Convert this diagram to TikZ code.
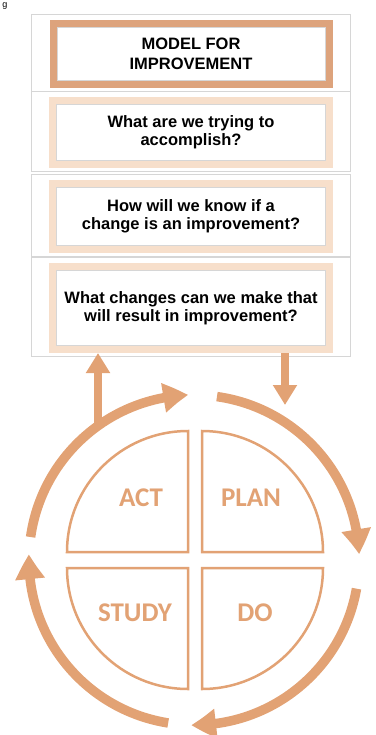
\documentclass[tikz,border=0pt]{standalone}
\usepackage{fontspec}
\setmainfont{Liberation Sans}
\newfontfamily\cyclefont{Carlito}
\usetikzlibrary{arrows.meta,bending,positioning}

\definecolor{frameorange}{HTML}{DDA37C}
\definecolor{paleorange}{HTML}{F7DFCB}
\definecolor{cycleorange}{HTML}{E2A274}
\definecolor{ghostgray}{HTML}{D6D6D6}

\begin{document}
\begin{tikzpicture}[x=1pt,y=-1pt,
    qbox/.style={draw=paleorange,line width=7.5pt,fill=white,minimum width=276pt,
      align=center,inner sep=0pt,font=\bfseries\fontsize{16.5}{18}\selectfont},
    headbox/.style={qbox,draw=frameorange,line width=7pt,
      font=\bfseries\fontsize{16.5}{20}\selectfont},
    feed/.style={cycleorange,line width=8pt,-{Triangle[width=23pt,length=20pt]}},
    turn/.style={cycleorange,line width=9.5pt,-{Triangle[bend,width=28pt,length=25pt]}},
    quarter/.style={draw=cycleorange,line width=2.5pt,fill=white},
    phase/.style={anchor=base,inner sep=0pt,text=cycleorange,
      font=\cyclefont\bfseries\fontsize{27}{27}\selectfont}]

  \useasboundingbox (0,0) rectangle (375,735);

  % letter left over from the caption
  \node[anchor=base,inner sep=0pt,font=\fontsize{9}{9}\selectfont] (g) at (5,7.5) {g};

  % the three questions
  \node[headbox,minimum height=61pt] (model) at (191,54) {MODEL FOR\\IMPROVEMENT};
  \node[qbox,minimum height=63.5pt,below=9pt of model] (aim) {What are we trying to\\accomplish?};
  \node[qbox,minimum height=65.5pt,below=12pt of aim] (measure) {How will we know if a\\change is an improvement?};
  \node[qbox,minimum height=82.5pt,below=10pt of measure] (change) {What changes can we make that\\will result in improvement?};

  \foreach \b in {model,aim,measure,change} {
    \draw[ghostgray,line width=0.6pt] ([shift={(7.4pt,-7.4pt)}]\b.north west) rectangle ([shift={(-7.4pt,7.4pt)}]\b.south east);
    \draw[ghostgray,line width=0.6pt] ([shift={(-18pt,6pt)}]\b.north west) rectangle ([shift={(18pt,-3pt)}]\b.south east);
  }

  % links between the questions and the cycle
  \coordinate (hub) at (194,560);
  \coordinate (actfoot) at (98,427);
  \coordinate (planin) at (285,405);
  \draw[feed] (actfoot) -- (actfoot |- change.south);
  \draw[feed] (planin |- change.south) -- (planin);

  % PDSA ring
  \draw[turn] ([shift={(-172:165)}]hub) arc[start angle=-172,end angle=-92,radius=165];
  \draw[turn] ([shift={(-82:165)}]hub) arc[start angle=-82,end angle=-2,radius=165];
  \draw[turn] ([shift={(10:165)}]hub) arc[start angle=10,end angle=91,radius=165];
  \draw[turn] ([shift={(99:165)}]hub) arc[start angle=99,end angle=182,radius=165];

  % four quarters
  \coordinate (qa) at (188,552);
  \coordinate (qp) at (202,552);
  \coordinate (qd) at (202,568);
  \coordinate (qs) at (188,568);
  \draw[quarter] (qa) -- ++(-121,0) arc[start angle=-180,end angle=-90,radius=121] -- cycle;
  \draw[quarter] (qp) -- ++(0,-121) arc[start angle=-90,end angle=0,radius=121] -- cycle;
  \draw[quarter] (qd) -- ++(121,0) arc[start angle=0,end angle=90,radius=121] -- cycle;
  \draw[quarter] (qs) -- ++(0,121) arc[start angle=90,end angle=180,radius=121] -- cycle;

  \node[phase] (act)   at (141,506) {ACT};
  \node[phase] (plan)  at (251,506) {PLAN};
  \node[phase] (study) at (135,621) {STUDY};
  \node[phase] (do)    at (255,621) {DO};
\end{tikzpicture}
\end{document}
